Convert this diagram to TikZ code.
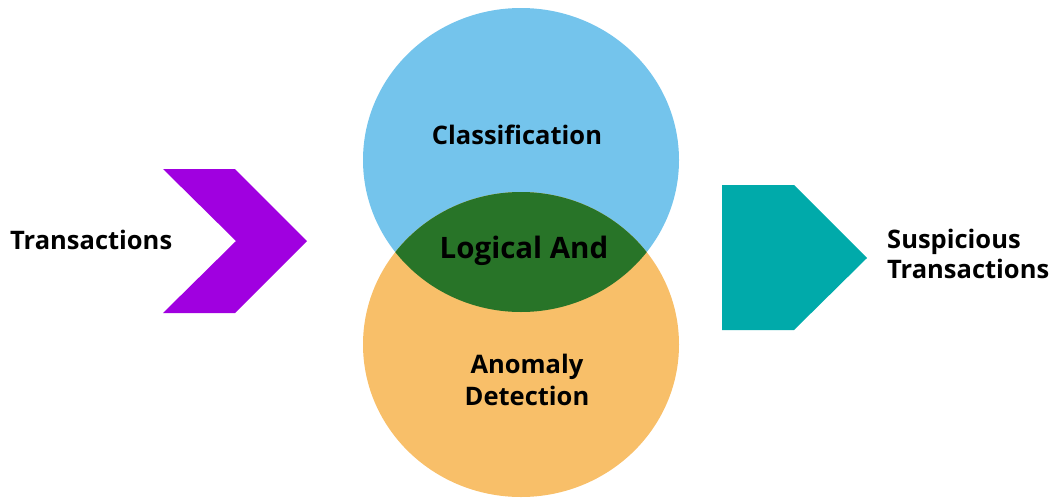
\documentclass[tikz,border=0pt]{standalone}
\usepackage{fontspec}
\setmainfont{Open Sans}
\definecolor{cblue}{HTML}{74C4EC}
\definecolor{corange}{HTML}{F8BF69}
\definecolor{cgreen}{HTML}{287428}
\definecolor{cpurple}{HTML}{A000E0}
\definecolor{cteal}{HTML}{00AAAA}
\begin{document}
\begin{tikzpicture}[x=1pt,y=-1pt,
  lbl/.style={font=\bfseries\fontsize{25.5}{31}\selectfont, text=black, inner sep=0pt, align=center},
  lbll/.style={font=\bfseries\fontsize{25.5}{30}\selectfont, text=black, inner sep=0pt, align=left}]
\useasboundingbox (0,0) rectangle (1052,498);
% circles
\fill[cblue] (521,160) ellipse [x radius=158, y radius=152];
\fill[corange] (521,344.5) ellipse [x radius=158, y radius=152.5];
\begin{scope}
  \clip (521,160) ellipse [x radius=158, y radius=152];
  \fill[cgreen] (521,344.5) ellipse [x radius=158, y radius=152.5];
\end{scope}
% chevron
\fill[cpurple] (163,169) -- (235,169) -- (307,241) -- (235,313) -- (163,313) -- (236,241) -- cycle;
% pentagon
\fill[cteal] (722,185) -- (794,185) -- (867,258) -- (794,330) -- (722,330) -- cycle;
% labels
\node[lbl, anchor=base] (cls) at (517,144) {Classification};
\node[lbl, font=\bfseries\fontsize{29.5}{34}\selectfont, anchor=base] (and) at (524,258) {Logical And};
\node[lbl, font=\bfseries\fontsize{25.5}{32}\selectfont, anchor=base] (ano) at (527,405) {Anomaly\\Detection};
\node[lbl, anchor=base west] (tr) at (10,249) {Transactions};
\node[lbll, anchor=base west] (st) at (887,278) {Suspicious\\Transactions};
\end{tikzpicture}
\end{document}
